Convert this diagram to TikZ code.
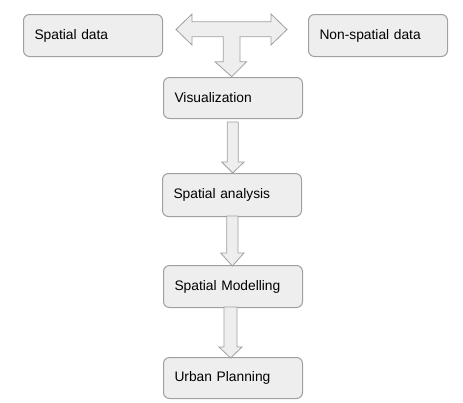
\documentclass[tikz,border=0pt]{standalone}
\usepackage{fontspec}
\setmainfont{Liberation Sans}
\definecolor{boxfill}{HTML}{EEEEEE}
\definecolor{boxline}{HTML}{A0A0A0}
\begin{document}
\begin{tikzpicture}[x=1pt,y=-1pt,
  stepbox/.style={draw=boxline, fill=boxfill, line width=1pt, rounded corners=6pt,
    minimum width=139pt, minimum height=42pt, text width=117pt, align=left,
    inner xsep=11pt, font=\fontsize{13.8}{15}\selectfont, anchor=north west},
  blockarrow/.style={draw=boxline, fill=boxfill, line width=0.8pt, line join=miter}]
\useasboundingbox (0,0) rectangle (463,402);
\node[stepbox] (spatial) at (23,14) {Spatial data};
\node[stepbox] (nonspatial) at (308,14) {Non-spatial data};
\node[stepbox, minimum width=139pt, minimum height=41pt] (vis) at (163,77) {Visualization};
\node[stepbox, minimum width=138pt, minimum height=43pt] (analysis) at (162,173) {Spatial analysis};
\node[stepbox, minimum width=139pt, minimum height=42pt] (model) at (163,265) {Spatial Modelling};
\node[stepbox, minimum width=139pt, minimum height=41pt] (urban) at (163,357) {Urban Planning};
% T-shaped block arrow
\draw[blockarrow] (176,29.5) -- (192,14) -- (192,21.7) -- (271,21.7) -- (271,14) -- (287,29.5)
  -- (271,45) -- (271,36.7) -- (240,36.7) -- (240,61.7) -- (246.7,61.7) -- (231.7,76.7)
  -- (215,61.7) -- (223.3,61.7) -- (223.3,36.7) -- (192,36.7) -- (192,45) -- cycle;
% vertical block arrows
\draw[blockarrow] (227.3,122) -- (238.3,122) -- (238.3,162) -- (244,162) -- (232.7,173)
  -- (221.7,162) -- (227.3,162) -- cycle;
\draw[blockarrow] (226.7,216) -- (238,216) -- (238,253) -- (244,253) -- (232.3,266)
  -- (220.7,253) -- (226.7,253) -- cycle;
\draw[blockarrow] (224,307) -- (237,307) -- (237,347) -- (242,347) -- (230.5,358)
  -- (219,347) -- (224,347) -- cycle;
\end{tikzpicture}
\end{document}
